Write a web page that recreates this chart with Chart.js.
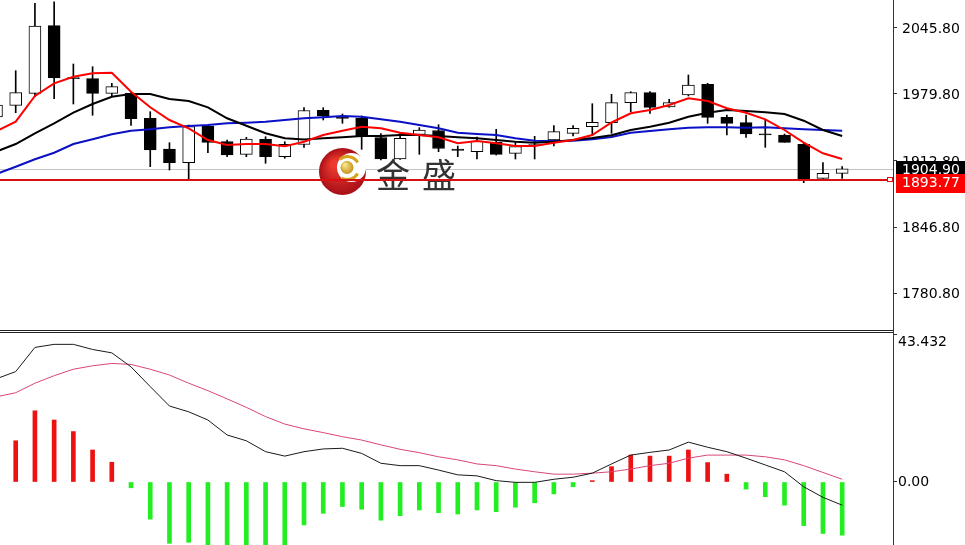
<!DOCTYPE html>
<html><head><meta charset="utf-8">
<script src="https://cdn.jsdelivr.net/npm/chart.js@4.4.1/dist/chart.umd.min.js"></script>
<style>
html,body{margin:0;padding:0;background:#fff;width:965px;height:545px;overflow:hidden;position:relative;}
#main{position:absolute;left:0;top:0;}
#macd{position:absolute;left:0;top:333px;}
.sep{position:absolute;left:0;width:894px;height:1px;background:#222;}
.vline{position:absolute;left:893px;width:1px;background:#333;}
</style></head><body>
<canvas id="main" width="965" height="330"></canvas>
<div class="sep" style="top:330px"></div>
<div class="sep" style="top:332px"></div>
<div class="vline" style="top:328px;height:7px"></div>
<canvas id="macd" width="965" height="212"></canvas>
<script>
// ---------- DATA ----------
const candleIdx = [-1,0,1,2,3,4,5,6,7,8,9,10,11,12,13,14,15,16,17,18,19,20,21,22,23,24,25,26,27,28,29,30,31,32,33,34,35,36,37,38,39,40,41,42,43];
const openP  = [1956.57,1968.24,1980.20,2047.60,1995.95,1994.76,1980.20,1980.20,1955.27,1924.67,1911.01,1947.60,1931.95,1919.38,1934.34,1916.99,1929.15,1963.25,1957.27,1955.27,1936.13,1914.70,1939.12,1943.11,1924.67,1921.98,1931.35,1920.38,1929.15,1933.64,1940.32,1946.90,1950.89,1970.83,1980.80,1966.54,1978.50,1989.17,1956.27,1950.89,1939.82,1938.62,1929.35,1895.45,1900.44];
const highP  = [1970.50,2002.73,2069.93,2071.52,2009.41,2006.72,1990.17,1980.80,1961.86,1930.95,1948.59,1948.59,1933.64,1936.33,1936.93,1931.95,1965.84,1965.84,1959.56,1957.57,1940.12,1940.32,1945.90,1948.89,1927.66,1936.63,1944.31,1931.65,1937.33,1947.90,1947.90,1969.83,1979.20,1981.80,1981.80,1974.22,1998.44,1990.17,1958.56,1958.56,1954.28,1939.62,1930.35,1911.01,1907.02];
const lowP   = [1954.60,1960.86,1976.81,1974.82,1969.53,1958.27,1976.81,1948.30,1907.02,1903.73,1894.46,1920.98,1916.99,1916.99,1910.41,1915.39,1926.36,1953.58,1950.29,1924.37,1913.70,1914.20,1919.38,1921.98,1916.99,1914.70,1918.68,1914.70,1914.70,1927.66,1937.63,1939.62,1940.32,1961.86,1960.26,1966.24,1977.51,1950.29,1938.62,1936.33,1926.36,1931.35,1891.07,1895.45,1895.45];
const closeP = [1968.53,1980.80,2047.30,1995.45,1994.76,1980.20,1986.78,1954.88,1923.67,1911.01,1946.90,1931.35,1918.68,1934.64,1916.99,1929.35,1963.05,1957.57,1955.08,1937.33,1914.70,1935.33,1943.61,1925.17,1923.37,1932.64,1919.38,1927.16,1928.16,1941.92,1945.30,1951.29,1970.83,1980.80,1966.24,1970.83,1988.47,1956.27,1950.29,1939.62,1938.82,1931.35,1895.06,1900.44,1904.90];
const maRed   = [1942.61,1951.89,1977.51,1990.17,1996.75,2000.14,2000.74,1981.80,1966.24,1953.58,1945.30,1933.64,1928.65,1929.65,1929.65,1927.36,1931.95,1938.62,1942.91,1946.90,1945.30,1940.92,1938.62,1936.33,1930.35,1932.64,1930.35,1927.66,1927.66,1930.95,1933.64,1938.62,1951.09,1960.26,1963.55,1968.53,1975.22,1972.52,1965.25,1960.86,1954.28,1943.61,1930.95,1920.38,1914.70];
const maBlack = [1922.17,1929.65,1940.32,1950.29,1960.86,1969.53,1976.81,1979.50,1979.50,1974.52,1972.52,1966.24,1955.27,1947.90,1940.32,1935.33,1934.14,1935.33,1936.33,1937.63,1937.63,1938.62,1938.62,1937.63,1936.33,1935.33,1933.64,1931.95,1930.95,1931.95,1933.64,1935.63,1938.33,1943.61,1946.90,1950.89,1956.87,1960.86,1963.55,1962.55,1961.26,1959.56,1952.88,1943.61,1937.63];
const maBlue  = [1899.74,1907.02,1914.40,1920.98,1929.65,1934.34,1939.32,1942.91,1944.31,1946.30,1947.60,1948.59,1950.29,1950.89,1951.89,1953.58,1955.27,1956.27,1957.57,1956.87,1954.28,1951.89,1948.59,1945.30,1940.92,1939.62,1938.62,1935.33,1932.94,1932.64,1932.94,1934.34,1936.63,1940.92,1942.61,1944.31,1945.90,1946.30,1946.30,1945.90,1946.30,1945.30,1944.31,1943.61,1942.91];
const macdHist = [null,12.1,20.9,18.2,14.8,9.4,5.8,-1.7,-10.9,-18.0,-17.7,-19.5,-21.0,-19.6,-20.5,-18.8,-12.6,-9.2,-7.2,-8.0,-11.2,-9.9,-8.2,-9.0,-9.4,-8.2,-8.7,-7.4,-6.1,-3.5,-1.4,0.4,4.5,7.9,7.6,7.6,9.4,5.7,2.3,-2.1,-4.3,-6.8,-12.8,-15.1,-15.6];
const macdDif  = [30.3,32.4,39.5,40.4,40.4,38.9,37.9,33.8,28.0,22.3,20.6,18.2,13.8,12.1,8.9,7.6,8.9,9.7,9.9,8.4,5.5,4.8,4.8,3.5,2.1,1.8,0.4,-0.1,-0.1,0.8,1.4,2.6,5.3,7.9,8.7,9.4,11.7,10.2,8.9,7.0,5.0,3.0,-1.4,-4.5,-6.8];
const macdDea  = [25.0,26.2,29.0,31.2,33.1,34.1,34.8,34.5,33.1,31.4,29.0,26.8,24.4,21.9,19.2,17.0,15.6,14.5,13.3,12.3,10.9,9.6,8.6,7.4,6.5,5.3,4.8,3.8,3.0,2.3,2.3,2.6,3.0,3.8,4.8,5.5,7.0,7.9,7.9,7.9,7.4,6.5,4.8,2.8,0.8];
const priceTicks = [2045.80, 1979.80, 1912.80, 1846.80, 1780.80];
const macdTicks = [43.432, 0];
const bidPrice = 1904.90;
const linePrice = 1893.77;
const watermark = ['金', '盛'];

// ---------- CHARTS ----------
const X_MIN = -0.817, X_MAX = 45.645;
const FONT = 'DejaVu Sans';
const pts = arr => candleIdx.map((x,i)=>({x, y:arr[i]}));

function drawLogo(ctx){
  const cx=342.5, cy=171.5, r=23.5;
  ctx.save();
  const g = ctx.createRadialGradient(cx-8, cy-8, 3, cx, cy, r);
  g.addColorStop(0,'#ee3a2e'); g.addColorStop(1,'#a80f18');
  ctx.fillStyle=g; ctx.beginPath(); ctx.arc(cx,cy,r,0,2*Math.PI); ctx.fill();
  ctx.fillStyle='#fff'; ctx.beginPath(); ctx.arc(cx+9, cy-4, 14.5, 0, 2*Math.PI); ctx.fill();
  ctx.strokeStyle='#d6a21e'; ctx.lineWidth=3;
  ctx.beginPath(); ctx.arc(cx+5, cy-3.5, 11.5, -2.3, -0.5); ctx.stroke();
  ctx.beginPath(); ctx.arc(cx+5, cy-3.5, 11.5, 0.5, 2.1); ctx.stroke();
  const gb = ctx.createRadialGradient(cx+2, cy-7, 1, cx+4.5, cy-4, 7);
  gb.addColorStop(0,'#f8e58a'); gb.addColorStop(1,'#c38f16');
  ctx.fillStyle=gb; ctx.beginPath(); ctx.arc(cx+4.5, cy-4, 6.5, 0, 2*Math.PI); ctx.fill();
  ctx.fillStyle='#333';
  ctx.font='34px "Noto Sans CJK SC"';
  ctx.textBaseline='middle'; ctx.textAlign='left';
  ctx.fillText(watermark[0], 376, 175);
  ctx.fillText(watermark[1], 422, 175);
  ctx.restore();
}

const overlay = {
  id:'overlay',
  beforeDatasetsDraw(chart){
    const {ctx, chartArea:a, scales:{y}} = chart;
    const yb = Math.round(y.getPixelForValue(bidPrice)) + 0.5;
    ctx.save(); ctx.strokeStyle='#c4c4c4'; ctx.lineWidth=1;
    ctx.beginPath(); ctx.moveTo(a.left,yb); ctx.lineTo(a.right,yb); ctx.stroke(); ctx.restore();
  },
  afterDatasetsDraw(chart){
    const {ctx, chartArea:a, scales:{y}} = chart;
    drawLogo(ctx);
    const yr = Math.round(y.getPixelForValue(linePrice));
    ctx.save(); ctx.strokeStyle='#d81010'; ctx.lineWidth=2;
    ctx.beginPath(); ctx.moveTo(a.left,yr); ctx.lineTo(a.right,yr); ctx.stroke();
    ctx.fillStyle='#fff'; ctx.fillRect(887,177,6,5);
    ctx.lineWidth=1; ctx.strokeRect(887.5,177.5,5,4);
    ctx.restore();
  },
  afterDraw(chart){
    const {ctx, scales:{y}} = chart;
    const y1 = y.getPixelForValue(bidPrice), y2 = y.getPixelForValue(linePrice);
    ctx.save();
    ctx.font = '14px "'+FONT+'"'; ctx.textBaseline='middle'; ctx.textAlign='left';
    ctx.fillStyle='#000'; ctx.fillRect(896, Math.round(y1-8), 69, 19);
    ctx.fillStyle='#fff'; ctx.fillText(bidPrice.toFixed(2), 902, y1+1.5);
    ctx.fillStyle='#f00'; ctx.fillRect(896, Math.round(y2-6), 69, 19);
    ctx.fillStyle='#fff'; ctx.fillText(linePrice.toFixed(2), 902, y2+3.5);
    ctx.restore();
  }
};

new Chart(document.getElementById('main'), {
  type:'bar',
  data:{ datasets:[
    { type:'line', data:pts(maRed), borderColor:'#ff0000', borderWidth:2, pointRadius:0, tension:0, order:0 },
    { type:'line', data:pts(maBlack), borderColor:'#000000', borderWidth:2, pointRadius:0, tension:0, order:1 },
    { type:'line', data:pts(maBlue), borderColor:'#0a10c4', borderWidth:2, pointRadius:0, tension:0, order:1 },
    { type:'bar', data:candleIdx.map((x,i)=>({x, y:[openP[i], closeP[i]]})),
      backgroundColor:candleIdx.map((x,i)=> closeP[i]>=openP[i] ? '#ffffff' : '#000000'),
      borderColor:'#000', borderWidth:1, borderSkipped:false, barThickness:12, grouped:false, order:2 },
    { type:'bar', data:candleIdx.map((x,i)=>({x, y:[lowP[i], highP[i]]})),
      backgroundColor:'#000', borderWidth:0, barThickness:1, grouped:false, order:3 }
  ]},
  options:{
    responsive:false, animation:false, devicePixelRatio:1,
    layout:{padding:0},
    plugins:{legend:{display:false}, tooltip:{enabled:false}},
    scales:{
      x:{type:'linear', min:X_MIN, max:X_MAX, offset:false, display:false},
      y:{position:'right', min:1744.21, max:2073.22,
        afterFit(s){ s.width=72; s.paddingTop=0; s.paddingBottom=0; },
        afterBuildTicks(s){ s.ticks = priceTicks.map(v=>({value:v})); },
        ticks:{ callback:v=>Number(v).toFixed(2), color:'#000', font:{family:FONT, size:14}, padding:5, labelOffset:1.5, autoSkip:false, maxRotation:0 },
        grid:{ drawOnChartArea:false, drawTicks:true, tickLength:4, color:'#333', lineWidth:1 },
        border:{ display:true, color:'#333', width:1 }
      }
    }
  },
  plugins:[overlay]
});

new Chart(document.getElementById('macd'), {
  type:'bar',
  data:{ datasets:[
    { type:'line', data:pts(macdDif), borderColor:'#1a1a1a', borderWidth:1, pointRadius:0, tension:0, order:0 },
    { type:'line', data:pts(macdDea), borderColor:'#d9467a', borderWidth:1, pointRadius:0, tension:0, order:0 },
    { type:'bar', data:pts(macdHist),
      backgroundColor:macdHist.map(v=> v!==null && v>=0 ? '#ee1111' : '#22ee22'),
      borderWidth:0, barThickness:4, grouped:false, order:1 }
  ]},
  options:{
    responsive:false, animation:false, devicePixelRatio:1,
    layout:{padding:0},
    plugins:{legend:{display:false}, tooltip:{enabled:false}},
    scales:{
      x:{type:'linear', min:X_MIN, max:X_MAX, offset:false, display:false},
      y:{position:'right', min:-18.49, max:43.73,
        afterFit(s){ s.width=72; s.paddingTop=0; s.paddingBottom=0; },
        afterBuildTicks(s){ s.ticks = macdTicks.map(v=>({value:v})); },
        ticks:{ callback:v=> v===macdTicks[0] ? ['', v.toFixed(3)] : Number(v).toFixed(2),
          color:'#000', font:{family:FONT, size:14}, padding:1, autoSkip:false, maxRotation:0 },
        grid:{ drawOnChartArea:false, drawTicks:true, tickLength:4, color:'#333', lineWidth:1 },
        border:{ display:true, color:'#333', width:1 }
      }
    }
  }
});
</script>
</body></html>
